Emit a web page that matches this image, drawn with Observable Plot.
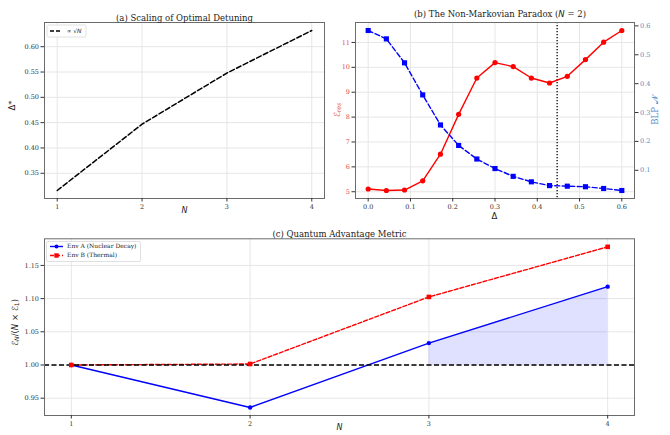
<!DOCTYPE html>
<html><head><meta charset="utf-8">
<script src="https://cdn.jsdelivr.net/npm/d3@7"></script>
<script src="https://cdn.jsdelivr.net/npm/@observablehq/plot@0.6"></script>
<style>
html,body{margin:0;padding:0;background:#fff;}
#fig{position:relative;width:670px;height:435px;overflow:hidden;background:#fff;}
.panel{position:absolute;}
.panel svg{display:block;}
</style></head><body><div id="fig"></div>
<script>
// ---------- data ----------
const scaleN = [1, 2, 3, 4];
const deltaOpt = [0.316, 0.447, 0.548, 0.632];
const aXTicks = [1, 2, 3, 4];
const aYTicks = [0.35, 0.40, 0.45, 0.50, 0.55, 0.60];

const deltas = [0, 0.043, 0.086, 0.129, 0.171, 0.214, 0.257, 0.300, 0.343, 0.386, 0.429, 0.471, 0.514, 0.557, 0.600];
const eRes = [5.11, 5.05, 5.07, 5.44, 6.51, 8.11, 9.57, 10.19, 10.03, 9.57, 9.37, 9.64, 10.31, 11.01, 11.48];
const blp = [0.584, 0.555, 0.472, 0.361, 0.257, 0.186, 0.139, 0.106, 0.079, 0.060, 0.047, 0.045, 0.043, 0.037, 0.030];
const deltaStar = 0.447;
const bXTicks = [0.0, 0.1, 0.2, 0.3, 0.4, 0.5, 0.6];
const bYTicks = [5, 6, 7, 8, 9, 10, 11];
const bRTicks = [0.1, 0.2, 0.3, 0.4, 0.5, 0.6];

const advN = [1, 2, 3, 4];
const envA = [1.000, 0.936, 1.033, 1.118];
const envB = [1.000, 1.0015, 1.1025, 1.178];
const cXTicks = [1, 2, 3, 4];
const cYTicks = [0.95, 1.00, 1.05, 1.10, 1.15];

// ---------- helpers ----------
const GRID = "#e6e6e6";
const SPINE = "#6b6b6b";
const SERIF = '"DejaVu Serif", serif';
const baseStyle = {fontFamily: SERIF, fontSize: "6.5px", background: "transparent", color: "#333", overflow: "visible"};
const fig = document.getElementById("fig");
function place(svg, left, top) {
  const d = document.createElement("div");
  d.className = "panel"; d.style.left = left + "px"; d.style.top = top + "px";
  d.appendChild(svg); fig.appendChild(d); return svg;
}
function pad(lo, hi) { const p = (hi - lo) * 0.05; return [lo - p, hi + p]; }
function richText(svg, x, y, parts, {rotate = 0, size = 7.5, fill = "#222", family = SERIF} = {}) {
  const t = d3.select(svg).append("text")
    .attr("transform", `translate(${x},${y}) rotate(${rotate})`)
    .attr("text-anchor", "middle").attr("dominant-baseline", "middle")
    .attr("font-family", family).attr("font-size", size).attr("fill", fill);
  let shift = 0;
  parts.forEach(p => {
    const s = t.append("tspan").text(p.t);
    if (p.it) s.attr("font-style", "italic");
    if (p.fam) s.attr("font-family", p.fam);
    const want = p.sub ? 2 : 0;
    if (want !== shift) { s.attr("dy", want - shift); shift = want; }
    if (p.sub) s.attr("font-size", size * 0.72);
  });
  return t;
}

// ---------- panel (a) ----------
const dataA = scaleN.map((n, i) => ({n, d: deltaOpt[i]}));
const pa = Plot.plot({
  width: 335, height: 222, marginLeft: 44, marginRight: 11, marginTop: 22, marginBottom: 24,
  style: baseStyle,
  x: {domain: pad(1, 4)}, y: {domain: pad(d3.min(deltaOpt), d3.max(deltaOpt))},
  marks: [
    Plot.gridX(aXTicks, {stroke: GRID, strokeOpacity: 1}),
    Plot.gridY(aYTicks, {stroke: GRID, strokeOpacity: 1}),
    Plot.line(dataA, {x: "n", y: "d", stroke: "black", strokeWidth: 1.5, strokeDasharray: "5,2.5"}),
    Plot.frame({stroke: SPINE, strokeWidth: 1}),
    Plot.axisX(aXTicks, {tickSize: 3.5, tickPadding: 2, label: null, tickFormat: d3.format("d")}),
    Plot.axisY(aYTicks, {tickSize: 3.5, tickPadding: 2, label: null, tickFormat: d3.format(".2f")}),
    Plot.text(["(a) Scaling of Optimal Detuning"], {text: d => d, frameAnchor: "top", dy: -8, fontSize: 8.5, fill: "#222"}),
    Plot.text(["N"], {text: d => d, frameAnchor: "bottom", dy: 14.5, fontStyle: "italic", fontSize: 8, fontFamily: "DejaVu Sans", fill: "#222"}),
    Plot.text(["Δ*"], {text: d => d, frameAnchor: "left", dx: -32, rotate: -90, fontSize: 8.5, fontFamily: "DejaVu Sans", fill: "#222"})
  ]
});
place(pa, 0, 0);
{
  const g = d3.select(pa).append("g").attr("text-anchor", "start");
  g.append("rect").attr("x", 47).attr("y", 25).attr("width", 39).attr("height", 12).attr("rx", 1.5)
    .attr("fill", "white").attr("fill-opacity", 0.85).attr("stroke", "#d8d8d8").attr("stroke-width", 0.8);
  g.append("line").attr("x1", 50).attr("x2", 62).attr("y1", 31).attr("y2", 31)
    .attr("stroke", "black").attr("stroke-width", 1.5).attr("stroke-dasharray", "4,2");
  const t = g.append("text").attr("x", 67).attr("y", 31).attr("dominant-baseline", "middle")
    .attr("text-anchor", "start")
    .attr("font-family", "DejaVu Sans").attr("font-size", 6).attr("fill", "#222");
  t.append("tspan").text("∝ √");
  t.append("tspan").attr("font-style", "italic").text("N");
}

// ---------- panel (b) ----------
const RED_T = "#e04a4a", BLUE_T = "#4a8cc8";
const dataB = deltas.map((x, i) => ({x, e: eRes[i], b: blp[i]}));
const xDomB = pad(d3.min(deltas), d3.max(deltas));
const pb1 = Plot.plot({
  width: 340, height: 222, marginLeft: 25, marginRight: 36, marginTop: 22, marginBottom: 24,
  style: baseStyle,
  x: {domain: xDomB}, y: {domain: pad(d3.min(eRes), d3.max(eRes))},
  marks: [
    Plot.gridX(bXTicks, {stroke: GRID, strokeOpacity: 1}),
    Plot.gridY(bYTicks, {stroke: GRID, strokeOpacity: 1}),
    Plot.ruleX([deltaStar], {stroke: "black", strokeWidth: 1.3, strokeDasharray: "1.3,1.7"}),
    Plot.line(dataB, {x: "x", y: "e", stroke: "red", strokeWidth: 1.4}),
    Plot.dot(dataB, {x: "x", y: "e", fill: "red", r: 2.6}),
    Plot.frame({stroke: SPINE, strokeWidth: 1}),
    Plot.axisX(bXTicks, {tickSize: 3.5, tickPadding: 2, label: null, tickFormat: d3.format(".1f")}),
    Plot.axisY(bYTicks, {tickSize: 3.5, tickPadding: 2, label: null, tickFormat: d3.format("d"), fill: RED_T})
  ]
});
place(pb1, 330, 0);
richText(pb1, 170, 14, [{t: "(b) The Non-Markovian Paradox ("}, {t: "N", it: true, fam: "DejaVu Sans"}, {t: " = 2)"}], {size: 8.5});
richText(pb1, 7, 110, [{t: "ℰ", fam: "DejaVu Sans"}, {t: "res", sub: true, it: true, fam: "DejaVu Sans"}], {rotate: -90, size: 8.5, fill: RED_T});
richText(pb1, 164.5, 215.5, [{t: "Δ", fam: "DejaVu Sans"}], {size: 8.5});

const pb2 = Plot.plot({
  width: 340, height: 222, marginLeft: 25, marginRight: 36, marginTop: 22, marginBottom: 24,
  style: baseStyle,
  x: {domain: xDomB, axis: null}, y: {domain: pad(d3.min(blp), d3.max(blp))},
  marks: [
    Plot.line(dataB, {x: "x", y: "b", stroke: "blue", strokeWidth: 1.4, strokeDasharray: "5,2.5"}),
    Plot.dot(dataB, {x: "x", y: "b", fill: "blue", symbol: "square", r: 2.9}),
    Plot.axisY(bRTicks, {anchor: "right", tickSize: 3.5, tickPadding: 2, label: null, tickFormat: d3.format(".1f"), fill: BLUE_T})
  ]
});
place(pb2, 330, 0);
richText(pb2, 325, 110, [{t: "BLP "}, {t: "𝒩", fam: "DejaVu Sans"}], {rotate: -90, size: 8.5, fill: BLUE_T});

// ---------- panel (c) ----------
const dataC = advN.map((n, i) => ({n, a: envA[i], b: envB[i]}));
const allC = envA.concat(envB);
const pc = Plot.plot({
  width: 670, height: 219, marginLeft: 44, marginRight: 36, marginTop: 22.3, marginBottom: 20,
  style: baseStyle,
  x: {domain: pad(1, 4)}, y: {domain: pad(d3.min(allC), d3.max(allC))},
  marks: [
    Plot.gridX(cXTicks, {stroke: GRID, strokeOpacity: 1}),
    Plot.gridY(cYTicks, {stroke: GRID, strokeOpacity: 1}),
    Plot.areaY(dataC.filter(d => d.a > 1), {x: "n", y1: 1, y2: "a", fill: "blue", fillOpacity: 0.12}),
    Plot.line(dataC, {x: "n", y: "a", stroke: "blue", strokeWidth: 1.4}),
    Plot.line(dataC, {x: "n", y: "b", stroke: "red", strokeWidth: 1.4, strokeDasharray: "4,2"}),
    Plot.ruleY([1], {stroke: "black", strokeWidth: 1.4, strokeDasharray: "5,2.5"}),
    Plot.dot(dataC, {x: "n", y: "a", fill: "blue", r: 2.2}),
    Plot.dot(dataC, {x: "n", y: "b", fill: "red", symbol: "square", r: 2.6}),
    Plot.frame({stroke: SPINE, strokeWidth: 1}),
    Plot.axisX(cXTicks, {tickSize: 3.5, tickPadding: 2, label: null, tickFormat: d3.format("d")}),
    Plot.axisY(cYTicks, {tickSize: 3.5, tickPadding: 2, label: null, tickFormat: d3.format(".2f")}),
    Plot.text(["(c) Quantum Advantage Metric"], {text: d => d, frameAnchor: "top", dy: -8, fontSize: 8.5, fill: "#222"}),
    Plot.text(["N"], {text: d => d, frameAnchor: "bottom", dy: 14.5, fontStyle: "italic", fontSize: 8, fontFamily: "DejaVu Sans", fill: "#222"})
  ]
});
place(pc, 0, 216);
richText(pc, 15, 106.5, [
  {t: "ℰ", fam: "DejaVu Sans"}, {t: "N", sub: true, it: true, fam: "DejaVu Sans"},
  {t: "/(", fam: "DejaVu Sans"}, {t: "N", it: true, fam: "DejaVu Sans"}, {t: " × ℰ", fam: "DejaVu Sans"},
  {t: "1", sub: true, fam: "DejaVu Sans"}, {t: ")", fam: "DejaVu Sans"}
], {rotate: -90, size: 8.5});
{
  const g = d3.select(pc).append("g").attr("text-anchor", "start");
  g.append("rect").attr("x", 46.5).attr("y", 25.5).attr("width", 94).attr("height", 20).attr("rx", 1.5)
    .attr("fill", "white").attr("fill-opacity", 0.85).attr("stroke", "#d8d8d8").attr("stroke-width", 0.8);
  const rows = [
    {label: "Env A (Nuclear Decay)", color: "blue", dash: null, sym: "circle", y: 30.5},
    {label: "Env B (Thermal)", color: "red", dash: "4,2", sym: "square", y: 39.5}
  ];
  rows.forEach(r => {
    g.append("line").attr("x1", 50).attr("x2", 63).attr("y1", r.y).attr("y2", r.y)
      .attr("stroke", r.color).attr("stroke-width", 1.4).attr("stroke-dasharray", r.dash);
    if (r.sym === "circle") g.append("circle").attr("cx", 56.5).attr("cy", r.y).attr("r", 2).attr("fill", r.color);
    else g.append("rect").attr("x", 54.3).attr("y", r.y - 2.2).attr("width", 4.4).attr("height", 4.4).attr("fill", r.color);
    g.append("text").attr("x", 67).attr("y", r.y).attr("dominant-baseline", "middle").attr("text-anchor", "start")
      .attr("font-family", SERIF).attr("font-size", 6).attr("fill", "#222").text(r.label);
  });
}
</script></body></html>
